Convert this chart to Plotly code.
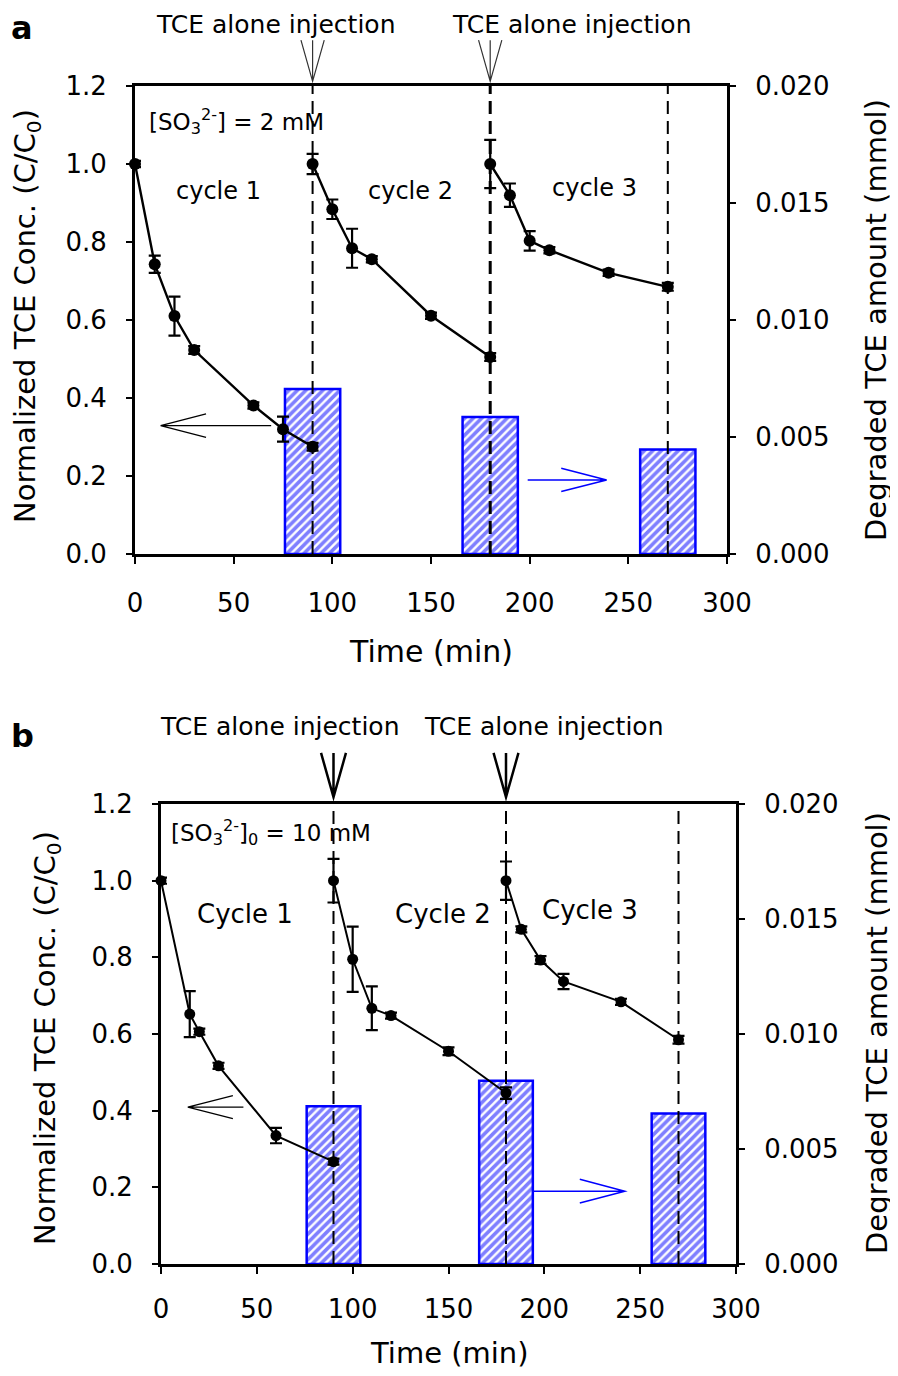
import plotly.graph_objects as go

# page has an 8px body margin, so the figure is drawn 8px in from the corner
OFF = 8
W, H = 890, 1368
FONT = "DejaVu Sans"

# ---- panel a: [SO3 2-] = 2 mM ----
a_t1 = [0, 10, 20, 30, 60, 75, 90]
a_c1 = [1.0, 0.743, 0.61, 0.523, 0.381, 0.32, 0.275]
a_e1 = [0.008, 0.022, 0.05, 0.01, 0.008, 0.032, 0.01]
a_t2 = [90, 100, 110, 120, 150, 180]
a_c2 = [1.0, 0.884, 0.784, 0.756, 0.611, 0.505]
a_e2 = [0.026, 0.025, 0.05, 0.008, 0.008, 0.01]
a_t3 = [180, 190, 200, 210, 240, 270]
a_c3 = [1.0, 0.92, 0.803, 0.779, 0.721, 0.685]
a_e3 = [0.062, 0.03, 0.025, 0.008, 0.008, 0.01]
a_bar_t = [90, 180, 270]
a_bar_v = [0.00705, 0.00586, 0.00447]

# ---- panel b: [SO3 2-]0 = 10 mM ----
b_t1 = [0, 15, 20, 30, 60, 90]
b_c1 = [1.0, 0.652, 0.606, 0.517, 0.335, 0.267]
b_e1 = [0.008, 0.06, 0.008, 0.008, 0.02, 0.008]
b_t2 = [90, 100, 110, 120, 150, 180]
b_c2 = [1.0, 0.795, 0.667, 0.648, 0.555, 0.446]
b_e2 = [0.057, 0.085, 0.057, 0.008, 0.01, 0.015]
b_t3 = [180, 188, 198, 210, 240, 270]
b_c3 = [1.0, 0.873, 0.793, 0.737, 0.684, 0.585]
b_e3 = [0.05, 0.008, 0.01, 0.02, 0.008, 0.01]
b_bar_t = [90, 180, 270]
b_bar_v = [0.00686, 0.00797, 0.00654]

cycle_ends = [90, 180, 270]
injections = [90, 180]
x_ticks = [0, 50, 100, 150, 200, 250, 300]


def px(x):
    return (x - OFF) / W


def py(y):
    return 1 - (y - OFF) / H


fig = go.Figure()


def add_panel(xa, ya_bar, ya_line, cycles, bars, msize, lw):
    bt, bv = bars
    fig.add_trace(go.Bar(
        x=bt, y=bv, width=28, xaxis=xa, yaxis=ya_bar,
        marker=dict(color="white", line=dict(color="#0000ff", width=2.5),
                    pattern=dict(shape="/", fgcolor="#0000ff", bgcolor="white",
                                 size=6, solidity=0.6)),
    ))
    for t, c, e in cycles:
        fig.add_trace(go.Scatter(
            x=t, y=c, xaxis=xa, yaxis=ya_line, mode="lines+markers",
            line=dict(color="black", width=lw),
            marker=dict(color="black", size=msize),
            error_y=dict(type="data", array=e, color="black", thickness=2.2, width=6),
            cliponaxis=False,
        ))


add_panel("x", "y", "y2",
          [(a_t1, a_c1, a_e1), (a_t2, a_c2, a_e2), (a_t3, a_c3, a_e3)],
          (a_bar_t, a_bar_v), 12, 2.4)
add_panel("x2", "y3", "y4",
          [(b_t1, b_c1, b_e1), (b_t2, b_c2, b_e2), (b_t3, b_c3, b_e3)],
          (b_bar_t, b_bar_v), 11, 2)

tick_font = dict(family=FONT, size=26, color="black")
common_x = dict(range=[0, 300], tickvals=x_ticks, showline=True, linecolor="black",
                mirror=True, ticks="outside", ticklen=7, tickwidth=2, tickcolor="black",
                showgrid=False, zeroline=False, tickfont=tick_font, automargin=False)
common_y = dict(showline=True, linecolor="black", ticks="outside", ticklen=6,
                tickwidth=2, tickcolor="black", showgrid=False, zeroline=False,
                tickfont=tick_font, ticklabelstandoff=14, automargin=False)

fig.update_layout(
    width=W, height=H,
    margin=dict(l=0, r=0, t=0, b=0, autoexpand=False),
    paper_bgcolor="white", plot_bgcolor="white",
    showlegend=False, barmode="overlay",
    xaxis=dict(domain=[px(135), px(727)], anchor="y", linewidth=3,
               ticklabelstandoff=17, **common_x),
    yaxis=dict(domain=[py(554), py(86)], anchor="x", side="right",
               range=[0, 0.02], dtick=0.005, tickformat=".3f", linewidth=3, **common_y),
    yaxis2=dict(overlaying="y", anchor="x", side="left",
                range=[0, 1.2], dtick=0.2, tickformat=".1f", linewidth=3, **common_y),
    xaxis2=dict(domain=[px(161), px(736)], anchor="y3", linewidth=2.5,
                ticklabelstandoff=13, **common_x),
    yaxis3=dict(domain=[py(1264), py(804)], anchor="x2", side="right",
                range=[0, 0.02], dtick=0.005, tickformat=".3f", linewidth=3, **common_y),
    yaxis4=dict(overlaying="y3", anchor="x2", side="left",
                range=[0, 1.2], dtick=0.2, tickformat=".1f", linewidth=3, **common_y),
)

shapes = []

# dashed lines at the end of each cycle
for xr, yr, widths in [("x", "y domain", [2, 3, 2]), ("x2", "y3 domain", [2, 2, 2])]:
    for t, w in zip(cycle_ends, widths):
        shapes.append(dict(type="line", xref=xr, yref=yr, x0=t, x1=t, y0=0, y1=1,
                           line=dict(color="black", width=w, dash="13px,7px")))

# "TCE alone injection" arrows above the frame
for xr, yr, half, top, tip, w, col in [("x", "y domain", 5.9, 1.098, 1.01, 1.2, "#333333"),
                                       ("x2", "y3 domain", 6.5, 1.111, 1.015, 2.5, "black")]:
    for t in injections:
        shapes.append(dict(type="path", xref=xr, yref=yr,
                           path=f"M{t-half},{top} L{t},{tip} L{t+half},{top} M{t},{top} L{t},{tip}",
                           line=dict(color=col, width=w)))


# open-headed pointer arrows (which axis each curve belongs to)
def pointer(xr, yr, tail, tip, y, head_x, head_dy, col, w):
    return dict(type="path", xref=xr, yref=yr,
                path=(f"M{tail},{y} L{tip},{y} M{head_x},{y + head_dy} L{tip},{y} "
                      f"L{head_x},{y - head_dy}"),
                line=dict(color=col, width=w))


shapes += [
    pointer("x", "y2", 69, 13, 0.329, 36, 0.03, "black", 1.3),
    pointer("x", "y2", 199, 239, 0.19, 216, 0.03, "#0000ff", 1.5),
    pointer("x2", "y4", 43, 14, 0.409, 37.5, 0.03, "black", 1.3),
    pointer("x2", "y4", 194, 242, 0.19, 218.5, 0.031, "#0000ff", 1.5),
]
fig.update_layout(shapes=shapes)


def text(s, x, y, size, xanchor="center", angle=0, bold=False):
    return dict(text=f"<b>{s}</b>" if bold else s, x=px(x), y=py(y), xref="paper",
                yref="paper", showarrow=False, xanchor=xanchor, yanchor="middle",
                textangle=angle, font=dict(family=FONT, size=size, color="black"))


left_title = "Normalized TCE Conc. (C/C<sub>0</sub>)"
right_title = "Degraded TCE amount (mmol)"

fig.update_layout(annotations=[
    text("a", 22, 28, 32, bold=True),
    text("TCE alone injection", 276, 24, 25),
    text("TCE alone injection", 572, 24, 25),
    text("[SO<sub>3</sub><sup>2-</sup>] = 2 mM", 147, 121, 23, xanchor="left"),
    text("cycle 1", 218, 191, 24),
    text("cycle 2", 410, 191, 24),
    text("cycle 3", 594, 188, 24),
    text(left_title, 27, 316, 29, angle=-90),
    text(right_title, 876, 320, 29, angle=-90),
    text("Time (min)", 431, 651, 30),

    text("b", 22, 736, 32, bold=True),
    text("TCE alone injection", 280, 727, 25),
    text("TCE alone injection", 544, 727, 25),
    text("[SO<sub>3</sub><sup>2-</sup>]<sub>0</sub> = 10 mM", 169, 832, 23, xanchor="left"),
    text("Cycle 1", 245, 914, 26),
    text("Cycle 2", 443, 914, 26),
    text("Cycle 3", 590, 910, 26),
    text(left_title, 47, 1038, 29, angle=-90),
    text(right_title, 877, 1033, 29, angle=-90),
    text("Time (min)", 449, 1353, 29),
])

fig.write_html("out.html")
